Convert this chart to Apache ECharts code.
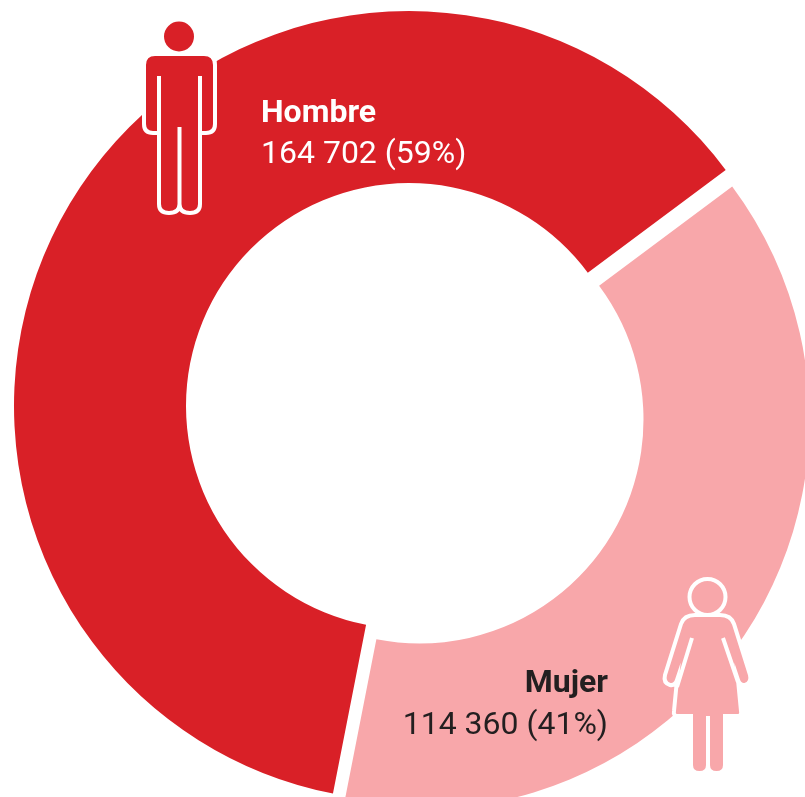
<!DOCTYPE html>
<html>
<head>
<meta charset="utf-8">
<style>html,body{margin:0;padding:0;background:#fff}#c{width:805px;height:797px}</style>
<script src="https://cdn.jsdelivr.net/npm/echarts@6/dist/echarts.min.js"></script>
</head>
<body>
<div id="c"></div>
<script>
// Printed labels
const categories = ['Hombre', 'Mujer'];
const countLabels = ['164 702 (59%)', '114 360 (41%)'];
// Angular spans of the two arcs as measured on the picture (degrees)
const arcSpans = [222.2, 137.8];
const colors = ['#D92027', '#F8A7AA'];
const inkColor = '#231F20';

const man = 'M155 54H204Q215 54 215 65V124Q215 133 206 133H200V204Q200 213 190 213Q179.5 213 179.5 204Q179.5 213 169 213Q159 213 159 204V133H153Q144 133 144 124V65Q144 54 155 54Z';
const manLines = 'M159 76V133M200 76V133M179.5 127V204';
const woman = 'M695 615H720Q731 615 734 624L750 675Q752 683 745 685Q740 686 738 680L741 711Q742 716 737 716H725V765Q725 773 716.5 773Q708 773 708 765V716V765Q708 773 699.5 773Q691 773 691 765V716H678Q673 716 674 711L677 680Q675 686 670 685Q663 683 665 675L681 624Q684 615 695 615Z';
const womanLines = 'M692 638L677 687M723 638L738 682';
[['man', man], ['manLines', manLines], ['woman', woman], ['womanLines', womanLines]].forEach(function (p) {
  echarts.graphic.registerShape(p[0], echarts.graphic.extendPath(p[1]));
});

function arc(index, center, radius) {
  return {
    type: 'pie', silent: true, clockwise: false, startAngle: 36.7, minAngle: 0,
    center: center, radius: radius, label: { show: false }, labelLine: { show: false },
    animation: false,
    data: categories.map(function (name, i) {
      return { name: name, value: arcSpans[i],
        itemStyle: { color: i === index ? colors[i] : 'rgba(0,0,0,0)' } };
    })
  };
}
const chart = echarts.init(document.getElementById('c'), null, { renderer: 'canvas' });
function txt(x, y, text, fill, weight, align) {
  return { type: 'text', z: 10, style: { x: x, y: y, text: text, fill: fill, textAlign: align,
    textVerticalAlign: 'alphabetic', verticalAlign: 'alphabetic', textBaseline: 'alphabetic',
    font: weight + ' 32px Roboto' } };
}
chart.setOption({
  animation: false,
  backgroundColor: '#fff',
  series: [arc(0, [409, 406], [223, 395]), arc(1, [419.5, 419.5], [224, 390])],
  graphic: { elements: [
    { type: 'circle', z: 9, shape: { cx: 179, cy: 36.5, r: 15 }, style: { fill: colors[0] } },
    { type: 'man', z: 9, style: { fill: colors[0], stroke: '#fff', lineWidth: 4 } },
    { type: 'manLines', z: 9, style: { fill: null, stroke: '#fff', lineWidth: 4 } },
    { type: 'circle', z: 9, shape: { cx: 707.5, cy: 597, r: 18 }, style: { fill: colors[1], stroke: '#fff', lineWidth: 4 } },
    { type: 'woman', z: 9, style: { fill: colors[1], stroke: '#fff', lineWidth: 4 } },
    { type: 'womanLines', z: 9, style: { fill: null, stroke: '#fff', lineWidth: 4 } },
    txt(261, 98, categories[0], '#fff', 'bold', 'left'),
    txt(261, 139, countLabels[0], '#fff', 'normal', 'left'),
    txt(608, 668, categories[1], inkColor, 'bold', 'right'),
    txt(608, 710, countLabels[1], inkColor, 'normal', 'right')
  ] }
});
</script>
</body>
</html>
